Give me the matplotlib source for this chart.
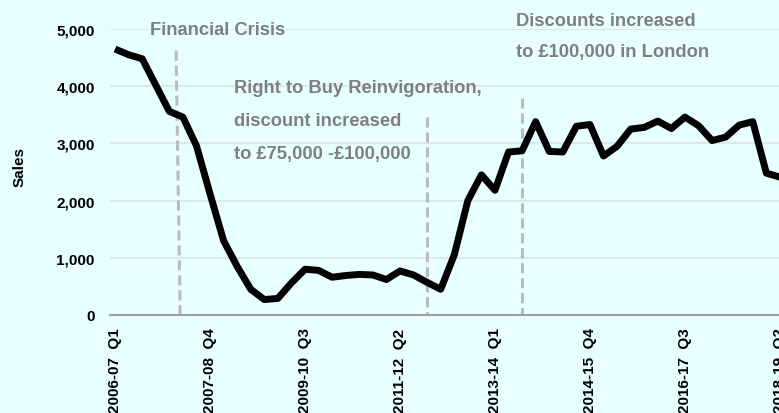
import matplotlib.pyplot as plt

plt.rcParams["font.family"] = ["Liberation Sans", "DejaVu Sans"]

# quarterly right to buy sales, 2006-07 Q1 .. 2018-19 Q2
anos = ["2006-07", "2007-08", "2008-09", "2009-10", "2010-11", "2011-12", "2012-13",
        "2013-14", "2014-15", "2015-16", "2016-17", "2017-18", "2018-19"]
trimestres = [f"{a}  Q{q}" for a in anos for q in range(1, 5)][:50]

vendas = [4650, 4550, 4480, 4020, 3560, 3460, 2960, 2120, 1300, 850,
          450, 270, 290, 560, 800, 780, 660, 690, 710, 700,
          620, 770, 700, 570, 450, 1050, 2000, 2450, 2180, 2850,
          2870, 3380, 2860, 2850, 3300, 3330, 2780, 2950, 3250, 3280,
          3390, 3260, 3460, 3310, 3050, 3110, 3320, 3380, 2480, 2410]

# (x topo, x base) e altura das linhas de evento
eventos_x = [(4.5, 4.8), (23.0, 23.0), (30.0, 30.0)]
eventos_topo = [4620, 3460, 3790]

cor_fundo = "#e8ffff"
cor_texto = "#7f7f7f"

fig = plt.figure(figsize=(7.79, 4.14), dpi=100, facecolor=cor_fundo)
ax = fig.add_axes([110 / 779, 98 / 414, 674 / 779, 286 / 414], facecolor=cor_fundo)

x = list(range(len(vendas)))
ax.plot(x, vendas, color="black", linewidth=5, solid_joinstyle="round",
        solid_capstyle="butt", zorder=3)

for (xt, xb), topo in zip(eventos_x, eventos_topo):
    ax.plot([xt, xb], [topo, 0], color="#bbbbbb", linewidth=2.2,
            dashes=(3.3, 1.6), dash_capstyle="butt", zorder=2)

ax.set_xlim(-0.37, 49.3)
ax.set_ylim(0, 5000)
ax.set_yticks(range(0, 5001, 1000))
ax.set_yticklabels([f"{v:,}" for v in range(0, 5001, 1000)],
                   fontsize=11, fontweight="bold")
ax.set_xticks(x[::7])
ax.set_xticklabels(trimestres[::7], rotation=90, fontsize=11,
                   fontweight="bold", va="top")
ax.tick_params(axis="y", length=0, pad=11)
ax.tick_params(axis="x", length=0, pad=9)

ax.grid(axis="y", color="#dce9e9", linewidth=1.5)
ax.set_axisbelow(True)
for lado in ["top", "right", "left"]:
    ax.spines[lado].set_visible(False)
ax.spines["bottom"].set_color("#a0a0a0")
ax.spines["bottom"].set_linewidth(1.5)
ax.spines["bottom"].set_zorder(4)

ax.set_ylabel("Sales", fontsize=11, fontweight="bold")
ax.yaxis.set_label_coords(-0.124, 0.52)

estilo = dict(color=cor_texto, fontsize=13.2, fontweight="bold", va="center",
              ha="left", clip_on=False)
ax.text(2.58, 4983, "Financial Crisis", **estilo)
ax.text(8.77, 3969, "Right to Buy Reinvigoration,", **estilo)
ax.text(8.77, 3392, "discount increased", **estilo)
ax.text(8.77, 2815, "to £75,000 -£100,000", **estilo)
ax.text(29.55, 5157, "Discounts increased", **estilo)
ax.text(29.55, 4598, "to £100,000 in London", **estilo)

fig.savefig("out.png", dpi=100, facecolor=cor_fundo)
plt.close(fig)
